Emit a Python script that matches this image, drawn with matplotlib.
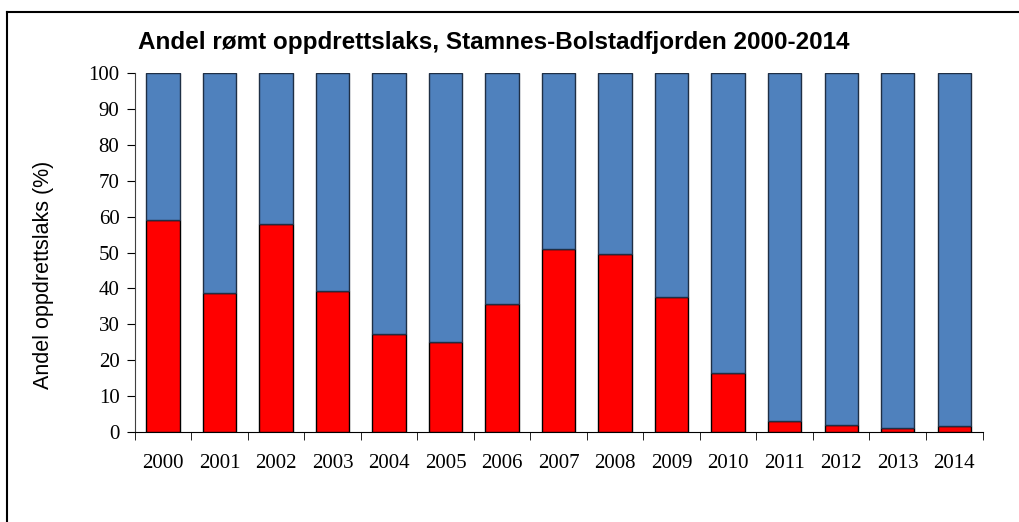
import matplotlib
matplotlib.use("Agg")
import matplotlib.pyplot as plt
from matplotlib.lines import Line2D
import numpy as np

years = ["2000", "2001", "2002", "2003", "2004", "2005", "2006", "2007",
         "2008", "2009", "2010", "2011", "2012", "2013", "2014"]
escaped = [59.0, 38.6, 57.8, 39.2, 27.3, 25.2, 35.7, 50.9,
           49.7, 37.7, 16.4, 3.0, 2.0, 1.0, 1.7]
total = [100] * len(years)
wild = [t - e for t, e in zip(total, escaped)]

fig = plt.figure(figsize=(10.19, 5.22), dpi=100)
L, R, T, B = 134.7, 982.5, 73, 432
ax = fig.add_axes([L / 1019, 1 - B / 522, (R - L) / 1019, (B - T) / 522])

x = np.arange(len(years))
w = 0.59
ax.bar(x, escaped, width=w, color="#ff0000", edgecolor="black", linewidth=1.0, zorder=3)
ax.bar(x, wild, width=w, bottom=escaped, color="#4f81bd", edgecolor="#1f2f45", linewidth=1.0, zorder=3)

ax.set_xlim(-0.5, len(years) - 0.5)
ax.set_ylim(0, 100)
ax.set_yticks(np.arange(0, 101, 10))
ax.set_xticks(x)
ax.set_xticklabels(years, fontfamily="Liberation Serif", fontsize=15)
ax.set_xticks(np.arange(-0.5, len(years), 1), minor=True)
ax.tick_params(axis="x", which="major", length=0, pad=16)
ax.tick_params(axis="x", which="minor", length=6, direction="out", color="black")
ax.tick_params(axis="y", length=6, direction="out", pad=5)
for lab in ax.get_yticklabels():
    lab.set_fontfamily("Liberation Serif")
    lab.set_fontsize(15)
ax.spines["top"].set_visible(False)
ax.spines["right"].set_visible(False)
ax.spines["left"].set_color("#404040")
ax.spines["bottom"].set_color("black")

ax.set_ylabel("Andel oppdrettslaks (%)", fontfamily="Liberation Sans", fontsize=15.5)
ax.yaxis.set_label_coords((54 - L) / (R - L), (B - 275) / (B - T))

fig.text(494 / 1019, 1 - 42 / 522, "Andel rømt oppdrettslaks, Stamnes-Bolstadfjorden 2000-2014",
         ha="center", va="center", fontfamily="Liberation Sans", fontweight="bold", fontsize=17.5)

# figure border (top and left edges visible)
fig.add_artist(Line2D([7 / 1019, 1.0], [1 - 12 / 522, 1 - 12 / 522], color="black", linewidth=1.5, transform=fig.transFigure))
fig.add_artist(Line2D([7 / 1019, 7 / 1019], [0.0, 1 - 12 / 522], color="black", linewidth=1.5, transform=fig.transFigure))

fig.savefig("out.png", dpi=100)
